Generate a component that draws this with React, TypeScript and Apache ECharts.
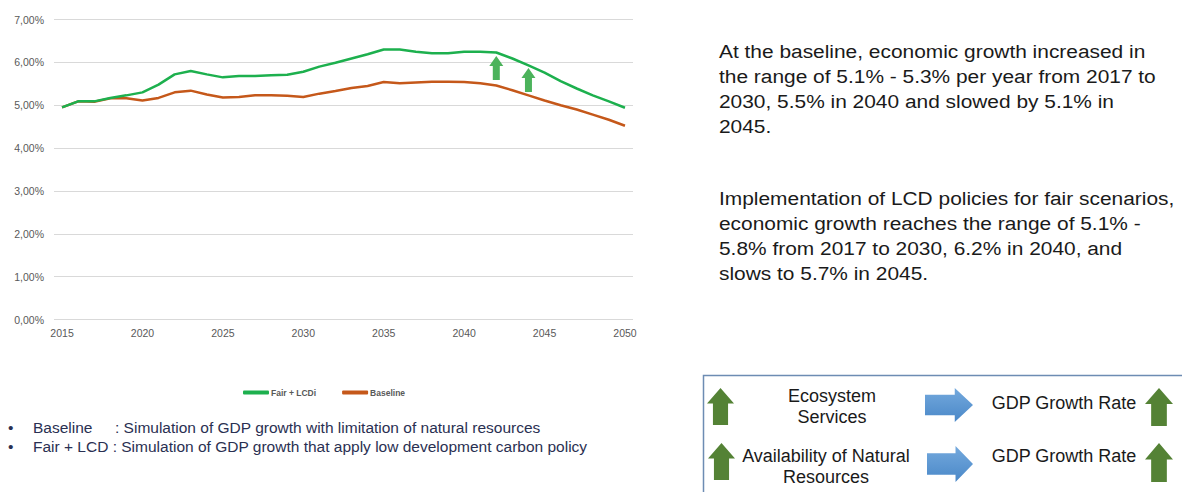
import React, { useEffect, useRef } from "react";
import * as echarts from "echarts";

const years = Array.from({ length: 36 }, (_, i) => String(2015 + i));
const fairLcd = [4.95, 5.09, 5.09, 5.17, 5.23, 5.30, 5.48, 5.72, 5.80, 5.72, 5.65, 5.68, 5.68, 5.70, 5.71, 5.78, 5.90, 5.99, 6.09, 6.19, 6.30, 6.30, 6.25, 6.21, 6.21, 6.25, 6.25, 6.23, 6.09, 5.93, 5.76, 5.56, 5.39, 5.23, 5.09, 4.94];
const baseline = [4.95, 5.09, 5.08, 5.16, 5.16, 5.11, 5.17, 5.30, 5.34, 5.25, 5.18, 5.19, 5.23, 5.23, 5.22, 5.19, 5.27, 5.33, 5.40, 5.45, 5.54, 5.51, 5.53, 5.55, 5.55, 5.54, 5.51, 5.46, 5.35, 5.23, 5.11, 5.00, 4.90, 4.78, 4.66, 4.52];
const arrowYears = ["2042", "2044"];
const arrowValues = [5.87, 5.59];

const paragraph1 = [
  "At the baseline, economic growth increased in",
  "the range of 5.1% - 5.3% per year from 2017 to",
  "2030, 5.5% in 2040 and slowed by 5.1% in",
  "2045.",
];
const paragraph2 = [
  "Implementation of LCD policies for fair scenarios,",
  "economic growth reaches the range of 5.1% -",
  "5.8% from 2017 to 2030, 6.2% in 2040, and",
  "slows to 5.7% in 2045.",
];

const FONT = '"Liberation Sans", Arial, sans-serif';
const upPath = "path://M7,0 L14,10 L10.5,10 L10.5,24 L3.5,24 L3.5,10 L0,10 Z";

function upArrow(x: number, y: number, w: number, h: number, fill: string) {
  const hh = h * 0.42;
  const sw = w * 0.28;
  return {
    type: "polygon",
    shape: {
      points: [
        [x + w / 2, y],
        [x + w, y + hh],
        [x + w / 2 + sw, y + hh],
        [x + w / 2 + sw, y + h],
        [x + w / 2 - sw, y + h],
        [x + w / 2 - sw, y + hh],
        [x, y + hh],
      ],
    },
    style: { fill },
  };
}

function rightArrow(x: number, y: number, w: number, h: number) {
  const hw = w * 0.38;
  const sh = h * 0.3;
  return {
    type: "polygon",
    shape: {
      points: [
        [x, y + h / 2 - sh],
        [x + w - hw, y + h / 2 - sh],
        [x + w - hw, y],
        [x + w, y + h / 2],
        [x + w - hw, y + h],
        [x + w - hw, y + h / 2 + sh],
        [x, y + h / 2 + sh],
      ],
    },
    style: {
      fill: new echarts.graphic.LinearGradient(0, 0, 0, 1, [
        { offset: 0, color: "#74a9dd" },
        { offset: 1, color: "#4a88c8" },
      ]),
    },
  };
}

function txt(text: string, x: number, y: number, size: number, fill: string, align = "left", scaleX = 1) {
  return {
    type: "text",
    x,
    y,
    scaleX,
    style: {
      text,
      font: `${size}px ${FONT}`,
      fill,
      align,
      verticalAlign: "middle",
    },
  };
}

export default function App() {
  const ref = useRef<HTMLDivElement>(null);
  useEffect(() => {
    if (!ref.current) return;
    const chart = echarts.init(ref.current, undefined, { renderer: "svg" });
    const darkText = "#1a1a1a";
    const bulletColor = "#2a3052";
    const graphic: any[] = [];
    paragraph1.forEach((l, i) => graphic.push(txt(l, 719, 51 + i * 25, 19, darkText, "left", 1.1)));
    paragraph2.forEach((l, i) => graphic.push(txt(l, 719, 198 + i * 25, 19, darkText, "left", 1.1)));
    graphic.push(txt("•", 8, 427, 15.5, bulletColor));
    graphic.push(txt("Baseline", 33, 427, 15.5, bulletColor));
    graphic.push(txt(": Simulation of GDP growth with limitation of natural resources", 115, 427, 15.5, bulletColor));
    graphic.push(txt("•", 8, 446, 15.5, bulletColor));
    graphic.push(txt("Fair + LCD : Simulation of GDP growth that apply low development carbon policy", 33, 446, 15.5, bulletColor));
    graphic.push({
      type: "rect",
      shape: { x: 703.5, y: 375.5, width: 490, height: 130 },
      style: { fill: "#ffffff", stroke: "#6d8cb3", lineWidth: 1.5 },
    });
    const dg = "#548235";
    graphic.push(upArrow(707, 388, 27, 37, dg));
    graphic.push(upArrow(708, 443, 27, 37, dg));
    graphic.push(upArrow(1145, 388, 28, 38, dg));
    graphic.push(upArrow(1145, 443, 28, 39, dg));
    graphic.push(rightArrow(925, 388, 48, 34));
    graphic.push(rightArrow(927, 446, 46, 36));
    graphic.push(txt("Ecosystem", 832, 396, 18, darkText, "center"));
    graphic.push(txt("Services", 832, 417, 18, darkText, "center"));
    graphic.push(txt("Availability of Natural", 826, 456, 18, darkText, "center"));
    graphic.push(txt("Resources", 826, 477, 18, darkText, "center"));
    graphic.push(txt("GDP Growth Rate", 1064, 403, 18, darkText, "center"));
    graphic.push(txt("GDP Growth Rate", 1064, 456, 18, darkText, "center"));

    chart.setOption({
      animation: false,
      backgroundColor: "#ffffff",
      textStyle: { fontFamily: FONT },
      grid: { left: 54, right: 549, top: 19.5, bottom: 172.5, containLabel: false },
      legend: {
        left: 238,
        top: 383,
        itemWidth: 26,
        itemHeight: 4,
        itemGap: 26,
        icon: "roundRect",
        textStyle: { fontSize: 8.5, fontWeight: "bold", color: "#595959", padding: [0, 0, 0, -3] },
        data: ["Fair + LCDi", "Baseline"],
      },
      xAxis: {
        type: "category",
        data: years,
        boundaryGap: true,
        axisLine: { show: false },
        axisTick: { show: false },
        axisLabel: { interval: 4, color: "#595959", fontSize: 10.5, margin: 8 },
        splitLine: { show: false },
      },
      yAxis: {
        type: "value",
        min: 0,
        max: 7,
        interval: 1,
        axisLine: { show: false },
        axisTick: { show: false },
        axisLabel: {
          color: "#595959",
          fontSize: 10.5,
          margin: 10,
          formatter: (v: number) => v.toFixed(2).replace(".", ",") + "%",
        },
        splitLine: { lineStyle: { color: "#d9d9d9", width: 1 } },
      },
      series: [
        {
          name: "Fair + LCDi",
          type: "line",
          data: fairLcd,
          showSymbol: false,
          symbol: "none",
          lineStyle: { color: "#1db04e", width: 2.5 },
          itemStyle: { color: "#1db04e" },
          z: 3,
          markPoint: {
            silent: true,
            label: { show: false },
            data: arrowYears.map((yr, i) => ({
              coord: [yr, arrowValues[i]],
              symbol: upPath,
              symbolSize: [14, 24],
              itemStyle: { color: "#4cb35c" },
            })),
          },
        },
        {
          name: "Baseline",
          type: "line",
          data: baseline,
          showSymbol: false,
          symbol: "none",
          lineStyle: { color: "#c5581a", width: 2.5 },
          itemStyle: { color: "#c5581a" },
          z: 2,
        },
      ],
      graphic,
    });
    return () => chart.dispose();
  }, []);
  return <div ref={ref} style={{ position: "absolute", left: 0, top: 0, width: 1182, height: 492 }} />;
}
